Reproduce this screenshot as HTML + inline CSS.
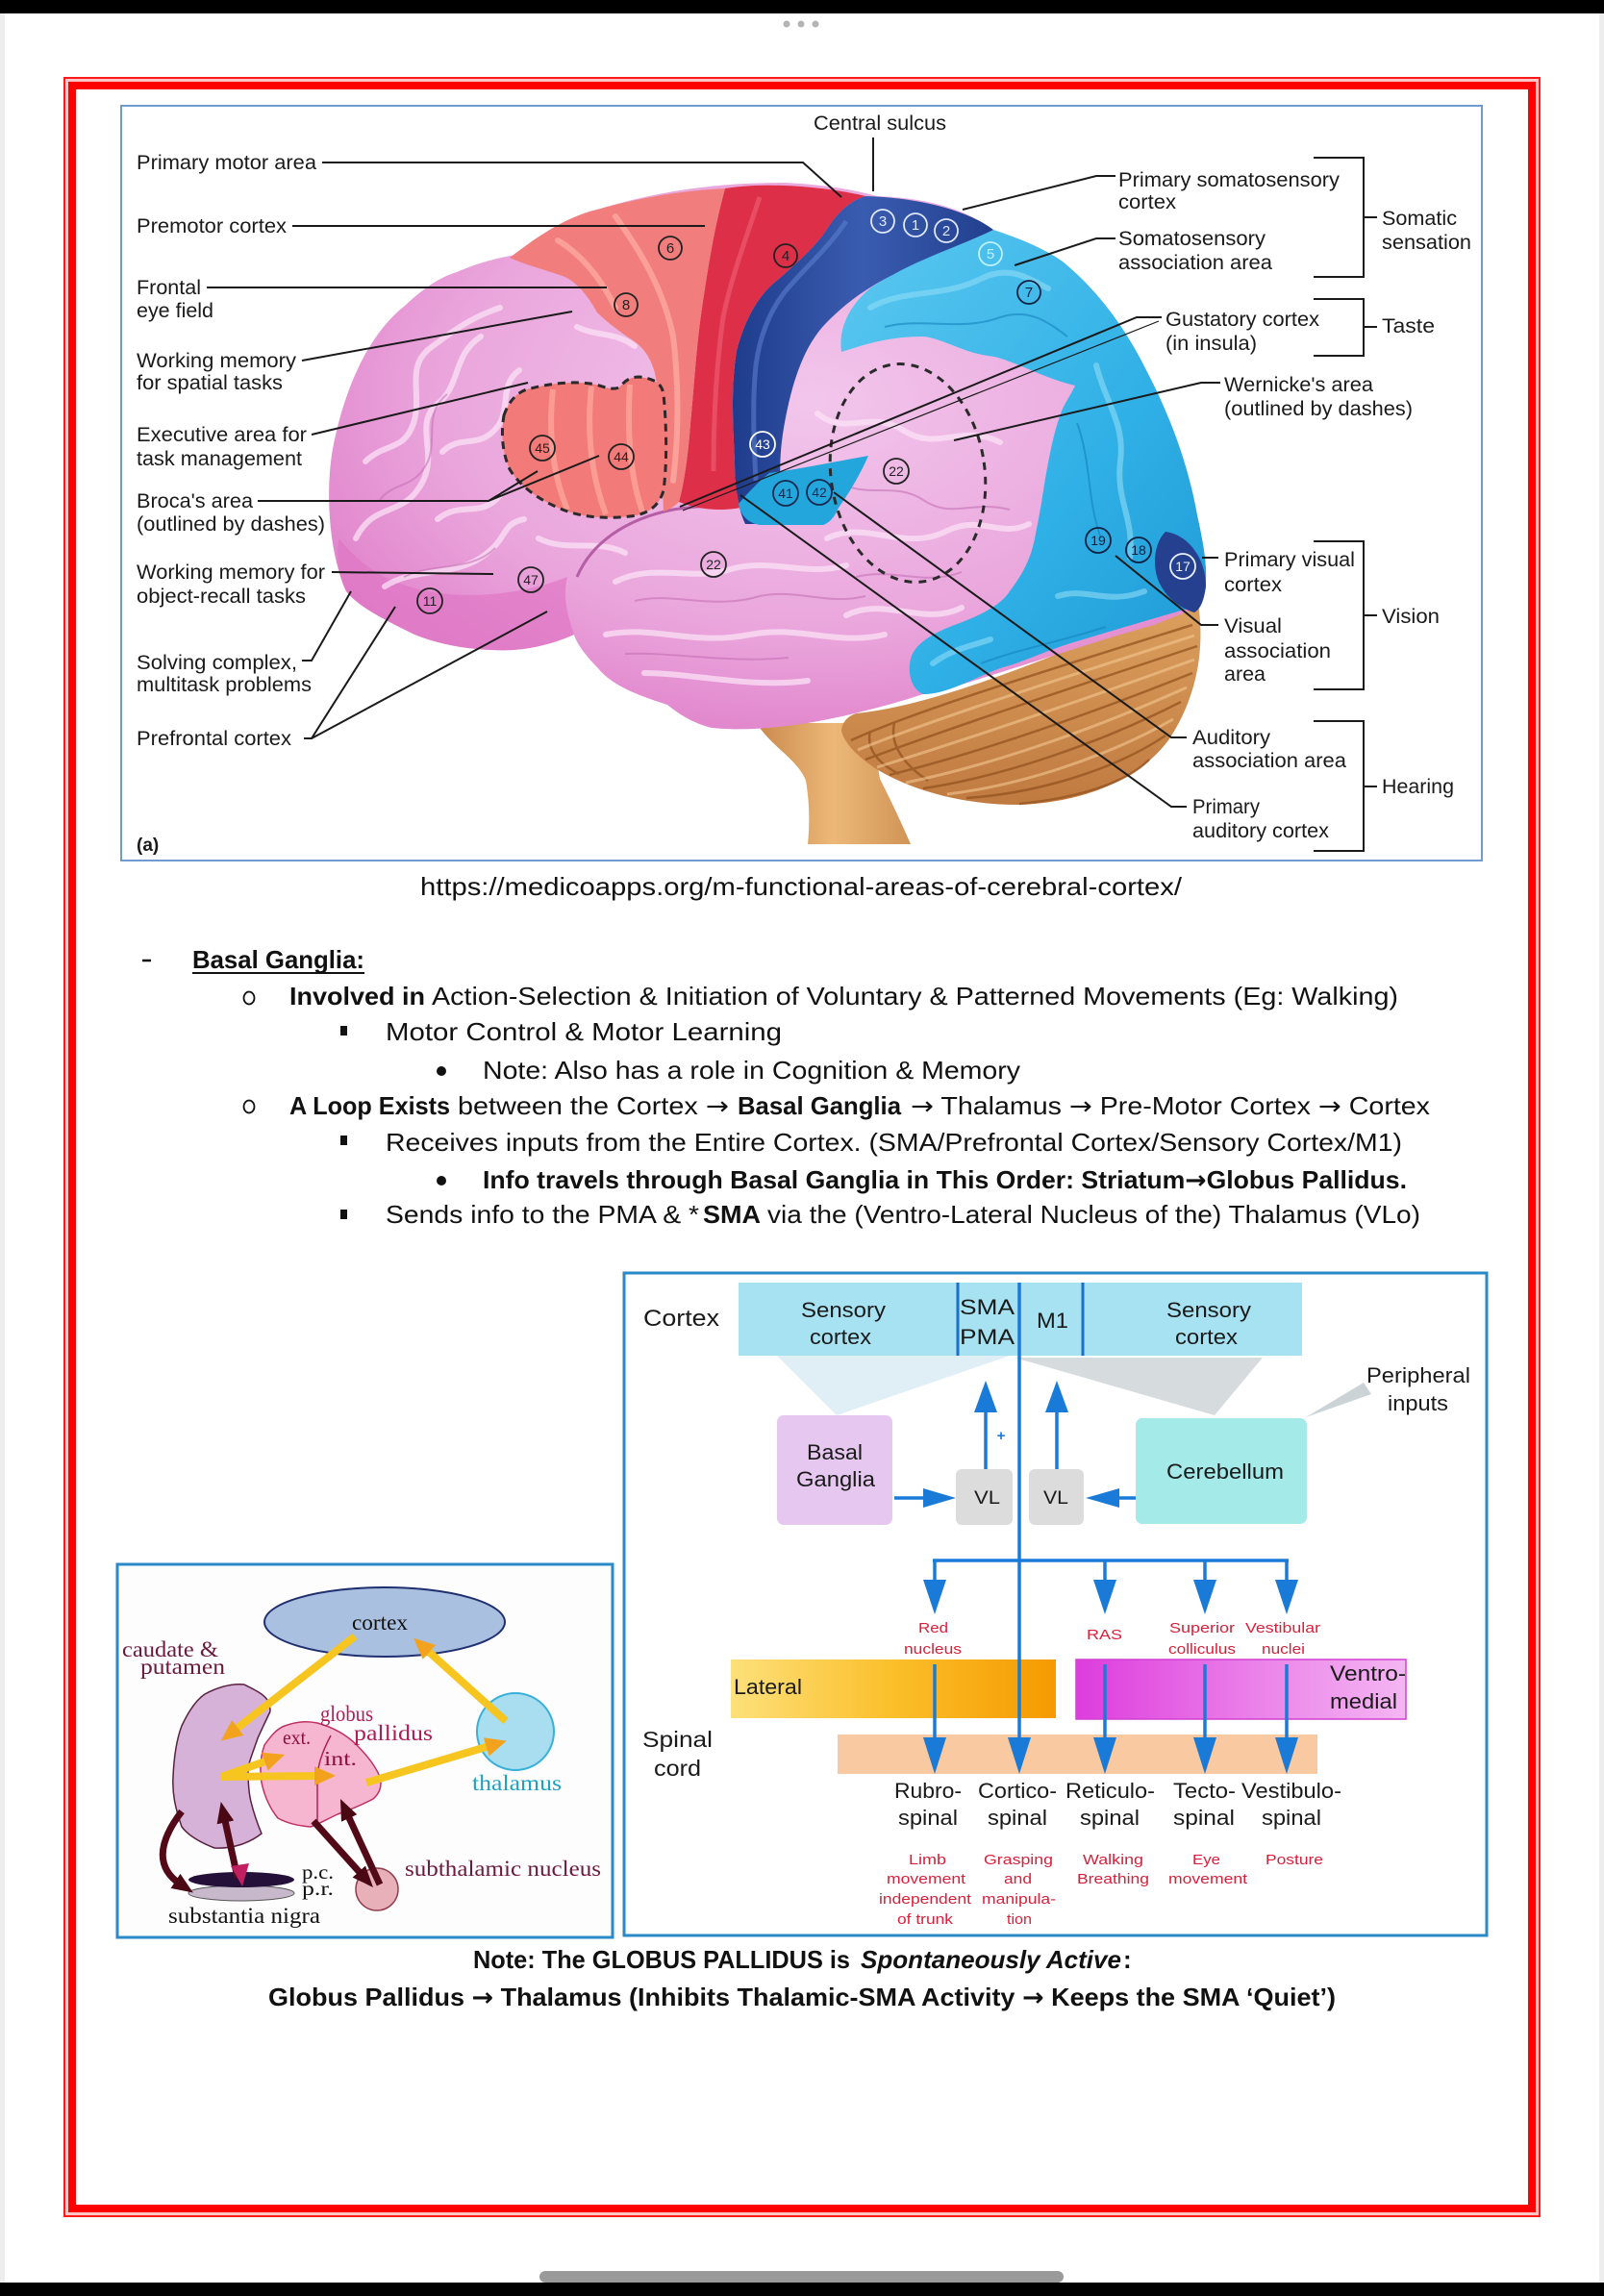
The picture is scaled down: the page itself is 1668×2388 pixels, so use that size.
<!DOCTYPE html>
<html><head><meta charset="utf-8"><style>
html,body{margin:0;padding:0;background:#fff}
body{width:1668px;height:2388px;overflow:hidden}
svg{display:block}
</style></head><body>
<svg width="1668" height="2388" viewBox="0 0 1668 2388" xmlns="http://www.w3.org/2000/svg">
<defs>
<radialGradient id="pinkG" cx="0.55" cy="0.4" r="0.7">
<stop offset="0" stop-color="#f2c6ec"/><stop offset="0.6" stop-color="#eaa6dc"/><stop offset="1" stop-color="#de78c6"/>
</radialGradient>
<linearGradient id="dbG" x1="0" y1="0" x2="1" y2="0"><stop offset="0" stop-color="#1f3c8c"/><stop offset="0.5" stop-color="#3a5cb0"/><stop offset="1" stop-color="#223f8e"/></linearGradient>
<linearGradient id="lbG" x1="0" y1="0" x2="1" y2="1"><stop offset="0" stop-color="#5cc8f0"/><stop offset="0.6" stop-color="#2fb0e6"/><stop offset="1" stop-color="#1e98d4"/></linearGradient>
<linearGradient id="cbG" x1="0" y1="0" x2="0" y2="1"><stop offset="0" stop-color="#dca05e"/><stop offset="1" stop-color="#c07a40"/></linearGradient>
<linearGradient id="bsG" x1="0" y1="0" x2="1" y2="0"><stop offset="0" stop-color="#c98a4c"/><stop offset="0.5" stop-color="#ecb878"/><stop offset="1" stop-color="#d09456"/></linearGradient>
<linearGradient id="latG" x1="0" y1="0" x2="1" y2="0"><stop offset="0" stop-color="#fde07a"/><stop offset="0.5" stop-color="#fbbf2a"/><stop offset="1" stop-color="#f59a00"/></linearGradient>
<linearGradient id="vmG" x1="0" y1="0" x2="1" y2="0"><stop offset="0" stop-color="#dd3cdd"/><stop offset="0.6" stop-color="#ec88ea"/><stop offset="1" stop-color="#f4b6f2"/></linearGradient>
<marker id="my" viewBox="0 0 10 10" refX="3" refY="5" markerWidth="22" markerHeight="20" markerUnits="userSpaceOnUse" orient="auto" preserveAspectRatio="none"><path d="M0,0 L10,5 L0,10 z" fill="#f2a21c"/></marker>
<marker id="mm" viewBox="0 0 10 10" refX="3" refY="5" markerWidth="22" markerHeight="18" markerUnits="userSpaceOnUse" orient="auto" preserveAspectRatio="none"><path d="M0,0 L10,5 L0,10 z" fill="#4a0814"/></marker>
</defs>

<!-- page chrome -->
<rect x="0" y="0" width="1668" height="2388" fill="#ffffff"/>
<rect x="0" y="14" width="5" height="2360" fill="#ededed"/>
<rect x="1663" y="14" width="5" height="2360" fill="#ededed"/>
<rect x="0" y="0" width="1668" height="14" fill="#000"/>
<circle cx="818" cy="25" r="3.5" fill="#b4b4b4"/><circle cx="833" cy="25" r="3.5" fill="#b4b4b4"/><circle cx="848" cy="25" r="3.5" fill="#b4b4b4"/>
<rect x="561" y="2362" width="545" height="12" rx="6" fill="#9a9a9a"/>
<rect x="0" y="2374" width="1668" height="14" fill="#000"/>

<!-- red border -->
<rect x="66" y="80" width="1536" height="2226" fill="#ff1a1a"/>
<rect x="68" y="82" width="1532" height="2222" fill="#ffc4c4"/>
<rect x="71" y="85" width="1526" height="2216" fill="#ff0000"/>
<rect x="79" y="93" width="1510" height="2200" fill="#ffffff"/>

<!-- brain frame -->
<rect x="126" y="110" width="1415" height="785" fill="#fff" stroke="#6f9bd0" stroke-width="2"/>

<!-- BRAIN -->
<g>
<!-- brainstem -->
<path d="M787,752 C800,775 830,790 838,812 C842,835 842,858 840,878 L947,878 C935,850 925,830 915,810 L905,752 Z" fill="url(#bsG)"/>
<!-- cerebellum -->
<path d="M890,742 C960,735 1050,700 1120,672 C1180,650 1220,636 1246,628 C1254,680 1242,730 1215,770 C1185,810 1130,834 1060,837 C1000,837 950,822 915,802 C895,790 878,774 875,760 C876,750 882,745 890,742 Z" fill="url(#cbG)"/>
<g fill="none" stroke="#94541f" stroke-width="2.5" opacity="0.75">
<path d="M885,770 C950,740 1080,700 1240,650"/>
<path d="M900,790 C980,760 1100,720 1245,672"/>
<path d="M925,806 C1010,785 1120,748 1240,700"/>
<path d="M960,820 C1040,808 1140,775 1228,730"/>
<path d="M1005,830 C1080,825 1160,800 1212,765"/>
<path d="M1060,836 C1120,830 1170,815 1195,790"/>
<path d="M905,760 C900,780 915,795 935,805"/>
<path d="M930,752 C925,775 940,795 965,812"/>
</g>
<g fill="none" stroke="#f3c891" stroke-width="3" opacity="0.6">
<path d="M892,780 C965,750 1090,710 1242,661"/>
<path d="M912,798 C995,772 1110,734 1242,686"/>
<path d="M942,814 C1025,797 1130,762 1234,715"/>
<path d="M985,826 C1060,817 1150,788 1220,748"/>
</g>
<!-- cerebrum -->
<path d="M360,615 C340,570 338,500 348,457 C358,410 380,350 421,318 C440,300 458,288 475,283 C500,272 520,268 536,265 C570,240 600,222 621,218 C680,200 740,190 815,190 C860,192 890,198 912,204 C960,206 1000,215 1033,239 C1060,248 1085,258 1105,272 C1145,305 1172,345 1192,385 C1218,435 1236,485 1245,536 C1256,585 1258,612 1245,632 L1200,650 C1120,672 1000,715 960,722 C920,735 880,745 840,752 C800,758 770,760 740,757 C720,752 705,742 694,733 C660,722 635,712 621,694 C605,678 598,665 597,660 C570,672 540,678 512,676 C480,675 445,668 421,655 C395,642 372,630 360,615 Z" fill="url(#pinkG)"/>
<path d="M360,615 C372,630 395,642 421,655 C445,668 480,675 512,676 C540,678 570,672 597,660 C590,640 585,620 590,600 C540,620 460,630 400,600 C380,590 365,575 352,560 C350,580 352,600 360,615 Z" fill="#df76c4" opacity="0.7"/>
<g fill="none" stroke="#fbe2f6" stroke-width="6" stroke-linecap="round" opacity="0.75">
<path d="M370,560 C390,520 420,540 440,500 C455,470 430,440 455,420 C480,400 470,370 500,350"/>
<path d="M380,480 C400,460 420,470 430,440 C440,410 420,380 450,360 C470,345 490,330 520,320"/>
<path d="M460,470 C480,450 500,470 520,440 C530,420 520,400 540,385"/>
<path d="M400,610 C430,590 470,600 500,580 C530,560 520,545 545,540"/>
<path d="M455,540 C480,520 500,540 520,515"/>
<path d="M560,560 C590,575 620,560 650,575"/>
<path d="M640,605 C680,585 720,605 760,592 C800,580 840,600 880,588"/>
<path d="M630,660 C680,650 720,672 780,660 C830,650 870,672 920,660"/>
<path d="M670,700 C720,700 780,716 840,708"/>
<path d="M850,430 C880,455 905,425 940,448 C975,470 1000,440 1040,460"/>
<path d="M860,560 C900,540 940,575 985,552 C1020,535 1040,560 1070,545"/>
<path d="M880,640 C920,620 960,652 1000,632"/>
<path d="M600,340 C620,350 640,345 660,360"/>
</g>
<g fill="none" stroke="#c26cb2" stroke-width="2" opacity="0.55">
<path d="M395,520 C410,500 430,510 445,480 C455,455 440,430 465,410"/>
<path d="M420,600 C450,585 490,595 515,570"/>
<path d="M660,625 C700,615 740,635 790,620 C830,612 860,630 900,620"/>
<path d="M650,680 C700,678 760,690 820,684"/>
<path d="M870,500 C900,520 930,500 960,520 C990,540 1010,520 1050,530"/>
<path d="M890,600 C930,590 960,610 1000,595"/>
</g>
<path d="M600,600 C615,565 650,540 700,530 C740,524 770,526 800,522" fill="none" stroke="#b55ea6" stroke-width="3"/>
<!-- light blue -->
<path d="M1033,239 C1060,248 1085,258 1105,272 C1145,305 1172,345 1192,385 C1218,435 1236,485 1245,536 C1256,585 1258,612 1246,630 C1210,640 1160,655 1110,670 C1080,680 1060,690 1043,694 C1010,706 985,722 960,722 C946,716 943,696 948,682 C954,668 970,659 990,651 C1020,640 1040,630 1050,615 C1065,595 1072,580 1076,560 C1080,540 1082,530 1084,516 C1090,480 1095,450 1105,425 C1110,415 1115,408 1118,401 C1080,392 1050,372 1027,370 C1000,366 980,352 960,350 C920,350 895,360 875,366 C872,345 880,320 906,299 C930,283 960,268 1033,239 Z" fill="url(#lbG)"/>
<g fill="none" stroke="#8fdcf6" stroke-width="6" stroke-linecap="round" opacity="0.6">
<path d="M905,320 C940,300 980,310 1020,290 C1050,275 1070,290 1090,300"/>
<path d="M1140,380 C1150,420 1170,440 1165,480 C1160,520 1180,540 1175,580"/>
<path d="M1100,620 C1130,610 1150,630 1190,615"/>
<path d="M970,690 C990,675 1010,672 1030,665"/>
</g>
<g fill="none" stroke="#1682bd" stroke-width="2" opacity="0.6">
<path d="M920,340 C960,330 1000,345 1040,330 C1070,320 1090,335 1110,350"/>
<path d="M1120,440 C1135,480 1130,520 1145,560"/>
<path d="M1020,690 C1060,675 1100,668 1150,652"/>
</g>
<!-- dark blue band -->
<path d="M900,204 C940,205 1000,214 1033,239 C1000,255 960,268 930,285 C900,300 880,315 860,335 C840,355 828,385 820,420 C812,455 810,480 812,510 C812,525 812,535 810,545 L775,545 C768,530 764,510 764,480 C762,440 760,400 766,365 C775,330 790,305 810,290 C830,272 850,255 862,235 C872,220 885,208 900,204 Z" fill="url(#dbG)"/>
<path d="M880,230 C860,260 835,280 815,305 C800,325 790,350 786,380 C782,420 784,460 786,500" fill="none" stroke="#5a7fcc" stroke-width="5" opacity="0.6"/>
<!-- red band -->
<path d="M754,196 C790,190 850,192 900,204 C885,208 872,220 862,235 C850,255 830,272 810,290 C790,305 775,330 766,365 C760,400 762,440 764,480 C764,500 766,515 770,528 C750,532 725,530 706,522 C712,500 716,470 718,440 C722,400 724,360 730,320 C736,280 742,240 754,196 Z" fill="#de2f48"/>
<path d="M790,205 C775,250 760,290 752,330 C745,380 742,430 742,490" fill="none" stroke="#f0607a" stroke-width="5" opacity="0.6"/>
<!-- salmon premotor -->
<path d="M530,268 C560,245 590,225 621,218 C670,204 715,198 754,196 C742,240 736,280 730,320 C724,360 722,400 718,440 C716,470 712,500 706,522 C700,528 695,530 690,532 C688,480 688,420 681,388 C676,370 668,360 655,352 C640,342 628,332 621,325 C610,305 598,292 585,287 C565,280 545,275 530,268 Z" fill="#f27d7d"/>
<g fill="none" stroke="#ffb0a6" stroke-width="6" stroke-linecap="round" opacity="0.7">
<path d="M640,225 C665,260 690,300 700,350 C706,400 706,450 700,500"/>
<path d="M580,250 C605,265 625,290 640,320"/>
</g>
<!-- Broca -->
<path d="M524,432 C530,415 540,406 552,404 C575,398 600,396 620,400 C632,404 640,406 645,402 C650,396 655,392 665,392 C680,394 688,398 690,410 C693,440 694,480 690,510 C686,525 675,535 655,537 C630,540 605,538 585,530 C560,520 540,505 530,488 C522,470 521,450 524,432 Z" fill="#f27a78"/>
<g fill="none" stroke="#ffa89e" stroke-width="6" opacity="0.75">
<path d="M575,405 C570,450 575,495 590,530"/>
<path d="M615,402 C610,450 615,495 630,535"/>
<path d="M655,400 C652,450 655,495 668,532"/>
</g>
<path d="M524,432 C530,415 540,406 552,404 C575,398 600,396 620,400 C632,404 640,406 645,402 C650,396 655,392 665,392 C680,394 688,398 690,410 C693,440 694,480 690,510 C686,525 675,535 655,537 C630,540 605,538 585,530 C560,520 540,505 530,488 C522,470 521,450 524,432 Z" fill="none" stroke="#2a2a2a" stroke-width="3" stroke-dasharray="8 6"/>
<!-- insula patch -->
<path d="M800,492 C830,488 870,480 903,474 C895,492 885,510 872,528 C868,538 862,544 856,546 L790,546 C778,544 770,536 768,524 C780,510 790,500 800,492 Z" fill="#22a6dc"/>
<!-- occipital dark blue -->
<path d="M1212,553 C1235,556 1254,580 1254,610 C1252,625 1248,634 1242,637 C1225,632 1212,620 1205,605 C1198,588 1200,565 1212,553 Z" fill="#24408e"/>
<!-- Wernicke dashed -->
<ellipse cx="944" cy="492" rx="80" ry="114" transform="rotate(-8 944 492)" fill="none" stroke="#2a2a2a" stroke-width="3" stroke-dasharray="8 7"/>
<!-- circles -->
<g font-family="Liberation Sans, Arial, sans-serif" font-size="15" text-anchor="middle" stroke-width="1.8">
<circle cx="697" cy="258" r="12" fill="none" stroke="#222"/><text x="697" y="263" fill="#222">6</text>
<circle cx="817" cy="266" r="12" fill="none" stroke="#222"/><text x="817" y="271" fill="#222">4</text>
<circle cx="651" cy="317" r="12" fill="none" stroke="#222"/><text x="651" y="322" fill="#222">8</text>
<circle cx="564" cy="466" r="13" fill="none" stroke="#222"/><text x="564" y="471" fill="#222" font-size="14">45</text>
<circle cx="646" cy="475" r="13" fill="none" stroke="#222"/><text x="646" y="480" fill="#222" font-size="14">44</text>
<circle cx="793" cy="462" r="13" fill="none" stroke="#fff"/><text x="793" y="467" fill="#fff" font-size="14">43</text>
<circle cx="817" cy="513" r="13" fill="none" stroke="#1a2a50"/><text x="817" y="518" fill="#1a2a50" font-size="14">41</text>
<circle cx="852" cy="512" r="13" fill="none" stroke="#1a2a50"/><text x="852" y="517" fill="#1a2a50" font-size="14">42</text>
<circle cx="742" cy="587" r="13" fill="none" stroke="#222"/><text x="742" y="592" fill="#222" font-size="14">22</text>
<circle cx="932" cy="490" r="13" fill="none" stroke="#222"/><text x="932" y="495" fill="#222" font-size="14">22</text>
<circle cx="552" cy="603" r="13" fill="none" stroke="#222"/><text x="552" y="608" fill="#222" font-size="14">47</text>
<circle cx="447" cy="625" r="13" fill="none" stroke="#222"/><text x="447" y="630" fill="#222" font-size="14">11</text>
<circle cx="918" cy="230" r="12" fill="none" stroke="#dfe8ff"/><text x="918" y="235" fill="#dfe8ff">3</text>
<circle cx="952" cy="234" r="12" fill="none" stroke="#dfe8ff"/><text x="952" y="239" fill="#dfe8ff">1</text>
<circle cx="984" cy="240" r="12" fill="none" stroke="#dfe8ff"/><text x="984" y="245" fill="#dfe8ff">2</text>
<circle cx="1030" cy="264" r="12" fill="none" stroke="#bff2ff"/><text x="1030" y="269" fill="#bff2ff">5</text>
<circle cx="1070" cy="304" r="12" fill="none" stroke="#102040"/><text x="1070" y="309" fill="#102040">7</text>
<circle cx="1142" cy="562" r="13" fill="none" stroke="#102040"/><text x="1142" y="567" fill="#102040" font-size="14">19</text>
<circle cx="1184" cy="572" r="13" fill="none" stroke="#102040"/><text x="1184" y="577" fill="#102040" font-size="14">18</text>
<circle cx="1230" cy="589" r="13" fill="none" stroke="#e8f0ff"/><text x="1230" y="594" fill="#e8f0ff" font-size="14">17</text>
</g>
</g>

<!-- brain label lines -->
<g fill="none" stroke="#1a1a1a" stroke-width="2">
<path d="M335,169 H835 L875,205"/>
<path d="M304,235 H733"/>
<path d="M215,299 H631"/>
<path d="M314,375 L595,324"/>
<path d="M324,452 L549,398"/>
<path d="M268,521 H508 L559,490 M508,521 L623,474"/>
<path d="M345,595 L513,597"/>
<path d="M314,687 H324 L365,615"/>
<path d="M316,768 H324 L411,631 M324,768 L569,636"/>
<path d="M908,143 V199"/>
<path d="M1160,183 H1140 L1001,218"/>
<path d="M1160,248 H1140 L1055,276"/>
<path d="M1208,330 H1182 L707,527"/>
<path d="M1205,334 L710,531" stroke-width="1.2"/>
<path d="M1269,398 H1249 L992,458"/>
<path d="M1267,580 H1250"/>
<path d="M1267,650 H1249 L1160,578"/>
<path d="M1234,767 H1218 L867,512"/>
<path d="M1234,839 H1218 L770,515"/>
<path d="M1366,164 H1418 V288 H1366 M1418,226 H1432"/>
<path d="M1366,311 H1418 V370 H1366 M1418,340 H1432"/>
<path d="M1366,563 H1418 V717 H1366 M1418,640 H1432"/>
<path d="M1366,750 H1418 V885 H1366 M1418,818 H1432"/>
</g>

<g font-family="Liberation Sans, Arial, sans-serif" font-size="21" fill="#1a1a1a">
<text x="142" y="176" textLength="187" lengthAdjust="spacingAndGlyphs">Primary motor area</text>
<text x="142" y="242" textLength="156" lengthAdjust="spacingAndGlyphs">Premotor cortex</text>
<text x="142" y="306" textLength="67" lengthAdjust="spacingAndGlyphs">Frontal</text>
<text x="142" y="330" textLength="80" lengthAdjust="spacingAndGlyphs">eye field</text>
<text x="142" y="382" textLength="166" lengthAdjust="spacingAndGlyphs">Working memory</text>
<text x="142" y="405" textLength="152" lengthAdjust="spacingAndGlyphs">for spatial tasks</text>
<text x="142" y="459" textLength="177" lengthAdjust="spacingAndGlyphs">Executive area for</text>
<text x="142" y="484" textLength="172" lengthAdjust="spacingAndGlyphs">task management</text>
<text x="142" y="528" textLength="121" lengthAdjust="spacingAndGlyphs">Broca's area</text>
<text x="142" y="552" textLength="196" lengthAdjust="spacingAndGlyphs">(outlined by dashes)</text>
<text x="142" y="602" textLength="196" lengthAdjust="spacingAndGlyphs">Working memory for</text>
<text x="142" y="627" textLength="176" lengthAdjust="spacingAndGlyphs">object-recall tasks</text>
<text x="142" y="696" textLength="167" lengthAdjust="spacingAndGlyphs">Solving complex,</text>
<text x="142" y="719" textLength="182" lengthAdjust="spacingAndGlyphs">multitask problems</text>
<text x="142" y="775" textLength="161" lengthAdjust="spacingAndGlyphs">Prefrontal cortex</text>
<text x="142" y="885" font-size="19" font-weight="bold">(a)</text>
<text x="846" y="135" textLength="138" lengthAdjust="spacingAndGlyphs">Central sulcus</text>
<text x="1163" y="194" textLength="230" lengthAdjust="spacingAndGlyphs">Primary somatosensory</text>
<text x="1163" y="217" textLength="60" lengthAdjust="spacingAndGlyphs">cortex</text>
<text x="1163" y="255" textLength="153" lengthAdjust="spacingAndGlyphs">Somatosensory</text>
<text x="1163" y="280" textLength="160" lengthAdjust="spacingAndGlyphs">association area</text>
<text x="1437" y="234" textLength="78" lengthAdjust="spacingAndGlyphs">Somatic</text>
<text x="1437" y="259" textLength="93" lengthAdjust="spacingAndGlyphs">sensation</text>
<text x="1212" y="339" textLength="160" lengthAdjust="spacingAndGlyphs">Gustatory cortex</text>
<text x="1212" y="364" textLength="95" lengthAdjust="spacingAndGlyphs">(in insula)</text>
<text x="1437" y="346" textLength="55" lengthAdjust="spacingAndGlyphs">Taste</text>
<text x="1273" y="407" textLength="155" lengthAdjust="spacingAndGlyphs">Wernicke's area</text>
<text x="1273" y="432" textLength="196" lengthAdjust="spacingAndGlyphs">(outlined by dashes)</text>
<text x="1273" y="589" textLength="136" lengthAdjust="spacingAndGlyphs">Primary visual</text>
<text x="1273" y="615" textLength="60" lengthAdjust="spacingAndGlyphs">cortex</text>
<text x="1273" y="658" textLength="60" lengthAdjust="spacingAndGlyphs">Visual</text>
<text x="1273" y="684" textLength="111" lengthAdjust="spacingAndGlyphs">association</text>
<text x="1273" y="708" textLength="43" lengthAdjust="spacingAndGlyphs">area</text>
<text x="1437" y="648" textLength="60" lengthAdjust="spacingAndGlyphs">Vision</text>
<text x="1240" y="774" textLength="81" lengthAdjust="spacingAndGlyphs">Auditory</text>
<text x="1240" y="798" textLength="160" lengthAdjust="spacingAndGlyphs">association area</text>
<text x="1240" y="846" textLength="70" lengthAdjust="spacingAndGlyphs">Primary</text>
<text x="1240" y="871" textLength="142" lengthAdjust="spacingAndGlyphs">auditory cortex</text>
<text x="1437" y="825" textLength="75" lengthAdjust="spacingAndGlyphs">Hearing</text>
</g>

<!-- URL and body text -->
<g font-family="Liberation Sans, Arial, sans-serif" font-size="26" fill="#111">
<text x="437" y="931" textLength="792" lengthAdjust="spacingAndGlyphs">https://medicoapps.org/m-functional-areas-of-cerebral-cortex/</text>
<line x1="148" y1="999" x2="157" y2="999" stroke="#111" stroke-width="2.5"/>
<text x="200" y="1007" font-weight="bold" textLength="179" lengthAdjust="spacingAndGlyphs">Basal Ganglia:</text>
<line x1="200" y1="1012" x2="379" y2="1012" stroke="#111" stroke-width="2"/>
<ellipse cx="259" cy="1038" rx="5.5" ry="6.5" fill="none" stroke="#111" stroke-width="1.8"/>
<text x="301" y="1045" font-weight="bold" textLength="141" lengthAdjust="spacingAndGlyphs">Involved in</text>
<text x="449" y="1045" textLength="1005" lengthAdjust="spacingAndGlyphs">Action-Selection &amp; Initiation of Voluntary &amp; Patterned Movements (Eg: Walking)</text>
<rect x="354" y="1067" width="7" height="10" fill="#111"/>
<text x="401" y="1082" textLength="412" lengthAdjust="spacingAndGlyphs">Motor Control &amp; Motor Learning</text>
<circle cx="459" cy="1114" r="5" fill="#111"/>
<text x="502" y="1122" textLength="559" lengthAdjust="spacingAndGlyphs">Note: Also has a role in Cognition &amp; Memory</text>
<ellipse cx="259" cy="1151" rx="5.5" ry="6.5" fill="none" stroke="#111" stroke-width="1.8"/>
<text x="301" y="1159" font-weight="bold" textLength="167" lengthAdjust="spacingAndGlyphs">A Loop Exists</text>
<text x="476" y="1159" textLength="282" lengthAdjust="spacingAndGlyphs">between the Cortex <tspan font-family="DejaVu Sans, sans-serif">→</tspan></text>
<text x="767" y="1159" font-weight="bold" textLength="170" lengthAdjust="spacingAndGlyphs">Basal Ganglia</text>
<text x="947" y="1159" textLength="540" lengthAdjust="spacingAndGlyphs"><tspan font-family="DejaVu Sans, sans-serif">→</tspan> Thalamus <tspan font-family="DejaVu Sans, sans-serif">→</tspan> Pre-Motor Cortex <tspan font-family="DejaVu Sans, sans-serif">→</tspan> Cortex</text>
<rect x="354" y="1181" width="7" height="10" fill="#111"/>
<text x="401" y="1197" textLength="1057" lengthAdjust="spacingAndGlyphs">Receives inputs from the Entire Cortex. (SMA/Prefrontal Cortex/Sensory Cortex/M1)</text>
<circle cx="459" cy="1228" r="5" fill="#111"/>
<text x="502" y="1236" font-weight="bold" textLength="961" lengthAdjust="spacingAndGlyphs">Info travels through Basal Ganglia in This Order: Striatum<tspan font-family="DejaVu Sans, sans-serif">→</tspan>Globus Pallidus.</text>
<rect x="354" y="1258" width="7" height="10" fill="#111"/>
<text x="401" y="1272" textLength="326" lengthAdjust="spacingAndGlyphs">Sends info to the PMA &amp; *</text>
<text x="731" y="1272" font-weight="bold" textLength="60" lengthAdjust="spacingAndGlyphs">SMA</text>
<text x="798" y="1272" textLength="679" lengthAdjust="spacingAndGlyphs">via the (Ventro-Lateral Nucleus of the) Thalamus (VLo)</text>
</g>

<!-- LEFT DIAGRAM -->
<rect x="122" y="1627" width="515" height="388" fill="#fdfdfd" stroke="#2a8ac8" stroke-width="3"/>
<ellipse cx="400" cy="1687" rx="125" ry="36" fill="#a9c0e0" stroke="#203070" stroke-width="2"/>
<path d="M254,1752 C266,1758 274,1762 278,1768 C282,1775 281,1782 280,1782 C274,1795 270,1803 268,1808 C262,1825 258,1835 258,1841 C258,1855 259,1866 261,1874 C265,1890 269,1900 272,1907 C258,1918 240,1923 223,1922 C205,1915 195,1908 189,1900 C182,1880 179,1865 180,1848 C181,1825 184,1808 189,1795 C196,1780 204,1768 213,1762 C228,1754 242,1751 254,1752 Z" fill="#d6b2d8" stroke="#5a2040" stroke-width="1.5"/>
<path d="M275,1815 C282,1805 288,1798 296,1795 C310,1790 320,1790 330,1792 C348,1797 362,1806 371,1815 C382,1826 391,1838 395,1848 C398,1858 394,1866 388,1871 C375,1878 362,1883 351,1887 C340,1892 332,1897 323,1900 C310,1899 298,1896 289,1891 C280,1880 275,1868 272,1854 C270,1840 271,1826 275,1815 Z" fill="#f6b6d0" stroke="#c03060" stroke-width="1.5"/>
<path d="M344,1805 C336,1820 330,1835 330,1850 C330,1868 330,1882 330,1894" fill="none" stroke="#b02050" stroke-width="1.5"/>
<circle cx="536" cy="1801" r="40" fill="#a8def0" stroke="#38b0d8" stroke-width="2"/>
<circle cx="392" cy="1965" r="22" fill="#e8b0b8" stroke="#904050" stroke-width="1.5"/>
<ellipse cx="251" cy="1969" rx="55" ry="8" fill="#c8b8cc" stroke="#555" stroke-width="1"/>
<ellipse cx="251" cy="1955" rx="55" ry="8" fill="#25103a"/>
<!-- yellow arrows -->
<g stroke="#f7c520" stroke-width="8" fill="none" marker-end="url(#my)">
<line x1="369" y1="1702" x2="242" y2="1801"/>
<line x1="526" y1="1790" x2="441.5" y2="1714"/>
<line x1="230" y1="1848" x2="281.5" y2="1830"/>
<line x1="230" y1="1848" x2="333.6" y2="1847"/>
<line x1="381" y1="1854" x2="512" y2="1815"/>
</g>
<!-- maroon arrows -->
<g stroke="#520a18" stroke-width="7" fill="none" marker-end="url(#mm)">
<path d="M189,1884 Q150,1935 188,1960"/>
<line x1="247" y1="1953" x2="233" y2="1889"/>
<line x1="326" y1="1894" x2="377.7" y2="1951.5"/>
<line x1="395" y1="1960" x2="360.4" y2="1885"/>
</g>
<polygon points="240,1941 259,1938 252,1962" fill="#c02060"/>
<g font-family="Liberation Serif, Times New Roman, serif" font-size="23">
<text x="395" y="1695" text-anchor="middle" fill="#111" textLength="58" lengthAdjust="spacingAndGlyphs">cortex</text>
<text x="127" y="1723" fill="#6a1a3a" textLength="100" lengthAdjust="spacingAndGlyphs">caudate &amp;</text>
<text x="146" y="1741" fill="#6a1a3a" textLength="88" lengthAdjust="spacingAndGlyphs">putamen</text>
<text x="333" y="1790" fill="#b01c58" textLength="55" lengthAdjust="spacingAndGlyphs">globus</text>
<text x="368" y="1810" fill="#b01c58" textLength="82" lengthAdjust="spacingAndGlyphs">pallidus</text>
<text x="294" y="1814" fill="#8a1040" font-size="21" textLength="29" lengthAdjust="spacingAndGlyphs">ext.</text>
<text x="337" y="1836" fill="#8a1040" font-size="21" textLength="34" lengthAdjust="spacingAndGlyphs">int.</text>
<text x="491" y="1862" fill="#20a0c0" textLength="93" lengthAdjust="spacingAndGlyphs">thalamus</text>
<text x="421" y="1951" fill="#6a1a3a" textLength="204" lengthAdjust="spacingAndGlyphs">subthalamic nucleus</text>
<text x="314" y="1954" fill="#111" font-size="21" textLength="33" lengthAdjust="spacingAndGlyphs">p.c.</text>
<text x="314" y="1971" fill="#111" font-size="21" textLength="33" lengthAdjust="spacingAndGlyphs">p.r.</text>
<text x="175" y="2000" fill="#111" textLength="158" lengthAdjust="spacingAndGlyphs">substantia nigra</text>
</g>

<!-- RIGHT DIAGRAM -->
<rect x="649" y="1324" width="897" height="689" fill="#fff" stroke="#2a8ac8" stroke-width="3"/>
<polygon points="808,1410 1050,1410 870,1472" fill="#e0eff5"/>
<polygon points="1055,1412 1313,1412 1263,1472" fill="#d6dbde"/>
<polygon points="1358,1474 1418,1438 1426,1450" fill="#ccd3d7"/>
<rect x="768" y="1334" width="586" height="76" fill="#a6e2f2"/>
<g stroke="#1a70c8" stroke-width="3"><line x1="996" y1="1334" x2="996" y2="1410"/><line x1="1126" y1="1334" x2="1126" y2="1410"/></g>
<rect x="808" y="1472" width="120" height="114" rx="7" fill="#e6c7ef"/>
<rect x="994" y="1528" width="59" height="58" rx="6" fill="#dcdcdc"/>
<rect x="1070" y="1528" width="57" height="58" rx="6" fill="#dcdcdc"/>
<rect x="1181" y="1475" width="178" height="110" rx="7" fill="#a4eae8"/>
<rect x="760" y="1726" width="338" height="61" fill="url(#latG)"/>
<rect x="1119" y="1726" width="343" height="62" fill="url(#vmG)" stroke="#d040d0" stroke-width="1.5"/>
<rect x="871" y="1804" width="499" height="41" fill="#f9c9a1"/>
<!-- blue arrows -->
<g stroke="#1a7ad8" stroke-width="3.5" fill="none">
<line x1="1060" y1="1334" x2="1060" y2="1810"/>
<line x1="1025" y1="1466" x2="1025" y2="1528"/>
<line x1="1099" y1="1466" x2="1099" y2="1528"/>
<line x1="930" y1="1558" x2="963" y2="1558"/>
<line x1="1181" y1="1558" x2="1161" y2="1558"/>
<line x1="970" y1="1623" x2="1340" y2="1623"/>
<line x1="972" y1="1623" x2="972" y2="1646"/>
<line x1="1149" y1="1623" x2="1149" y2="1646"/>
<line x1="1253" y1="1623" x2="1253" y2="1646"/>
<line x1="1338" y1="1623" x2="1338" y2="1646"/>
<line x1="972" y1="1731" x2="972" y2="1810"/>
<line x1="1149" y1="1731" x2="1149" y2="1810"/>
<line x1="1253" y1="1731" x2="1253" y2="1810"/>
<line x1="1338" y1="1731" x2="1338" y2="1810"/>
</g>
<g fill="#1a7ad8">
<polygon points="1013,1469 1037,1469 1025,1436"/>
<polygon points="1087,1469 1111,1469 1099,1436"/>
<polygon points="960,1548 960,1568 994,1558"/>
<polygon points="1164,1548 1164,1568 1129,1558"/>
<polygon points="1048,1807 1072,1807 1060,1845"/>
<polygon points="960,1643 984,1643 972,1679"/>
<polygon points="1137,1643 1161,1643 1149,1679"/>
<polygon points="1241,1643 1265,1643 1253,1679"/>
<polygon points="1326,1643 1350,1643 1338,1679"/>
<polygon points="960,1807 984,1807 972,1845"/>
<polygon points="1137,1807 1161,1807 1149,1845"/>
<polygon points="1241,1807 1265,1807 1253,1845"/>
<polygon points="1326,1807 1350,1807 1338,1845"/>
</g>
<g font-family="Liberation Sans, Arial, sans-serif" fill="#1a1a1a">
<text x="669" y="1379" font-size="24" textLength="79" lengthAdjust="spacingAndGlyphs">Cortex</text>
<text x="833" y="1370" font-size="22" textLength="88" lengthAdjust="spacingAndGlyphs">Sensory</text>
<text x="842" y="1398" font-size="22" textLength="64" lengthAdjust="spacingAndGlyphs">cortex</text>
<text x="998" y="1367" font-size="22" textLength="57" lengthAdjust="spacingAndGlyphs">SMA</text>
<text x="998" y="1398" font-size="22" textLength="57" lengthAdjust="spacingAndGlyphs">PMA</text>
<text x="1078" y="1381" font-size="22" textLength="33" lengthAdjust="spacingAndGlyphs">M1</text>
<text x="1213" y="1370" font-size="22" textLength="88" lengthAdjust="spacingAndGlyphs">Sensory</text>
<text x="1222" y="1398" font-size="22" textLength="65" lengthAdjust="spacingAndGlyphs">cortex</text>
<text x="1421" y="1438" font-size="22" textLength="108" lengthAdjust="spacingAndGlyphs">Peripheral</text>
<text x="1443" y="1467" font-size="22" textLength="63" lengthAdjust="spacingAndGlyphs">inputs</text>
<text x="839" y="1518" font-size="22" textLength="58" lengthAdjust="spacingAndGlyphs">Basal</text>
<text x="828" y="1546" font-size="22" textLength="82" lengthAdjust="spacingAndGlyphs">Ganglia</text>
<text x="1013" y="1564" font-size="19" textLength="27" lengthAdjust="spacingAndGlyphs">VL</text>
<text x="1085" y="1564" font-size="19" textLength="26" lengthAdjust="spacingAndGlyphs">VL</text>
<text x="1213" y="1538" font-size="22" textLength="122" lengthAdjust="spacingAndGlyphs">Cerebellum</text>
<text x="763" y="1762" font-size="22" textLength="71" lengthAdjust="spacingAndGlyphs">Lateral</text>
<text x="1383" y="1748" font-size="22" textLength="79" lengthAdjust="spacingAndGlyphs">Ventro-</text>
<text x="1383" y="1777" font-size="22" textLength="70" lengthAdjust="spacingAndGlyphs">medial</text>
<text x="668" y="1817" font-size="23" textLength="73" lengthAdjust="spacingAndGlyphs">Spinal</text>
<text x="680" y="1847" font-size="23" textLength="49" lengthAdjust="spacingAndGlyphs">cord</text>
<text x="930" y="1870" font-size="22" textLength="70" lengthAdjust="spacingAndGlyphs">Rubro-</text>
<text x="934" y="1898" font-size="22" textLength="62" lengthAdjust="spacingAndGlyphs">spinal</text>
<text x="1017" y="1870" font-size="22" textLength="82" lengthAdjust="spacingAndGlyphs">Cortico-</text>
<text x="1027" y="1898" font-size="22" textLength="62" lengthAdjust="spacingAndGlyphs">spinal</text>
<text x="1108" y="1870" font-size="22" textLength="93" lengthAdjust="spacingAndGlyphs">Reticulo-</text>
<text x="1123" y="1898" font-size="22" textLength="62" lengthAdjust="spacingAndGlyphs">spinal</text>
<text x="1220" y="1870" font-size="22" textLength="65" lengthAdjust="spacingAndGlyphs">Tecto-</text>
<text x="1220" y="1898" font-size="22" textLength="64" lengthAdjust="spacingAndGlyphs">spinal</text>
<text x="1291" y="1870" font-size="22" textLength="104" lengthAdjust="spacingAndGlyphs">Vestibulo-</text>
<text x="1312" y="1898" font-size="22" textLength="62" lengthAdjust="spacingAndGlyphs">spinal</text>
</g>
<text x="1041" y="1498" font-family="Liberation Sans, Arial, sans-serif" font-size="15" font-weight="bold" fill="#1a7ad8" text-anchor="middle">+</text>
<g font-family="Liberation Sans, Arial, sans-serif" font-size="15" fill="#d8203a">
<text x="955" y="1698" textLength="31" lengthAdjust="spacingAndGlyphs">Red</text>
<text x="940" y="1720" textLength="60" lengthAdjust="spacingAndGlyphs">nucleus</text>
<text x="1130" y="1705" textLength="37" lengthAdjust="spacingAndGlyphs">RAS</text>
<text x="1216" y="1698" textLength="68" lengthAdjust="spacingAndGlyphs">Superior</text>
<text x="1215" y="1720" textLength="70" lengthAdjust="spacingAndGlyphs">colliculus</text>
<text x="1295" y="1698" textLength="78" lengthAdjust="spacingAndGlyphs">Vestibular</text>
<text x="1312" y="1720" textLength="45" lengthAdjust="spacingAndGlyphs">nuclei</text>
<text x="945" y="1939" textLength="39" lengthAdjust="spacingAndGlyphs">Limb</text>
<text x="922" y="1959" textLength="82" lengthAdjust="spacingAndGlyphs">movement</text>
<text x="914" y="1980" textLength="96" lengthAdjust="spacingAndGlyphs">independent</text>
<text x="933" y="2001" textLength="58" lengthAdjust="spacingAndGlyphs">of trunk</text>
<text x="1023" y="1939" textLength="72" lengthAdjust="spacingAndGlyphs">Grasping</text>
<text x="1044" y="1959" textLength="29" lengthAdjust="spacingAndGlyphs">and</text>
<text x="1021" y="1980" textLength="77" lengthAdjust="spacingAndGlyphs">manipula-</text>
<text x="1047" y="2001" textLength="26" lengthAdjust="spacingAndGlyphs">tion</text>
<text x="1126" y="1939" textLength="63" lengthAdjust="spacingAndGlyphs">Walking</text>
<text x="1120" y="1959" textLength="75" lengthAdjust="spacingAndGlyphs">Breathing</text>
<text x="1240" y="1939" textLength="29" lengthAdjust="spacingAndGlyphs">Eye</text>
<text x="1215" y="1959" textLength="82" lengthAdjust="spacingAndGlyphs">movement</text>
<text x="1316" y="1939" textLength="60" lengthAdjust="spacingAndGlyphs">Posture</text>
</g>

<!-- bottom note -->
<g font-family="Liberation Sans, Arial, sans-serif" font-size="26" font-weight="bold" fill="#111">
<text x="492" y="2047" textLength="392" lengthAdjust="spacingAndGlyphs">Note: The GLOBUS PALLIDUS is</text>
<text x="895" y="2047" font-style="italic" textLength="271" lengthAdjust="spacingAndGlyphs">Spontaneously Active</text>
<text x="1168" y="2047">:</text>
<text x="279" y="2086" textLength="1110" lengthAdjust="spacingAndGlyphs">Globus Pallidus <tspan font-family="DejaVu Sans, sans-serif">→</tspan> Thalamus (Inhibits Thalamic-SMA Activity <tspan font-family="DejaVu Sans, sans-serif">→</tspan> Keeps the SMA ‘Quiet’)</text>
</g>
</svg>
</body></html>
